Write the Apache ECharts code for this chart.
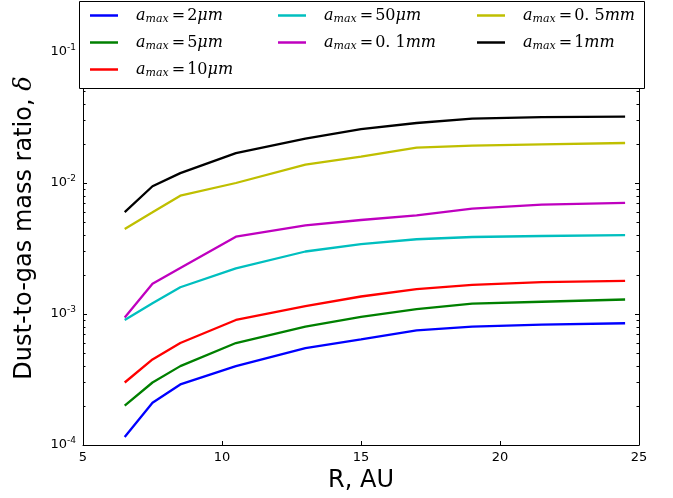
<!DOCTYPE html>
<html>
<head>
<meta charset="utf-8">
<script src="https://cdn.jsdelivr.net/npm/echarts@6/dist/echarts.min.js"></script>
<style>
html,body{margin:0;padding:0;background:#fff;}
#chart{width:673px;height:498px;}
</style>
</head>
<body>
<div id="chart"></div>
<script>
// ---- data ----
var radiusAU = [6.5, 7.5, 8.5, 10.5, 13, 15, 17, 19, 21.5, 24.5];
var amax2um   = [1.15e-4, 2.1e-4, 2.9e-4, 4.0e-4, 5.5e-4, 6.4e-4, 7.5e-4, 8.0e-4, 8.3e-4, 8.5e-4];
var amax5um   = [2.0e-4, 3.0e-4, 4.0e-4, 6.0e-4, 8.0e-4, 9.5e-4, 1.09e-3, 1.2e-3, 1.24e-3, 1.29e-3];
var amax10um  = [3.0e-4, 4.5e-4, 6.0e-4, 9.0e-4, 1.15e-3, 1.36e-3, 1.55e-3, 1.67e-3, 1.75e-3, 1.79e-3];
var amax50um  = [9.0e-4, 1.21e-3, 1.6e-3, 2.23e-3, 3.0e-3, 3.42e-3, 3.72e-3, 3.87e-3, 3.94e-3, 4.0e-3];
var amax01mm  = [9.4e-4, 1.7e-3, 2.24e-3, 3.89e-3, 4.75e-3, 5.22e-3, 5.67e-3, 6.37e-3, 6.83e-3, 7.04e-3];
var amax05mm  = [4.46e-3, 5.97e-3, 8.0e-3, 1.0e-2, 1.38e-2, 1.59e-2, 1.86e-2, 1.93e-2, 1.97e-2, 2.02e-2];
var amax1mm   = [6.0e-3, 9.44e-3, 1.19e-2, 1.69e-2, 2.18e-2, 2.58e-2, 2.87e-2, 3.1e-2, 3.18e-2, 3.21e-2];

var sizeNums  = ['2', '5', '10', '50', '0. 1', '0. 5', '1'];
var sizeUnits = ['μm', 'μm', 'μm', 'μm', 'mm', 'mm', 'mm'];
var seriesValues = [amax2um, amax5um, amax10um, amax50um, amax01mm, amax05mm, amax1mm];
var seriesColors = ['#0000ff', '#008000', '#ff0000', '#00bfbf', '#bf00bf', '#bfbf00', '#000000'];

var xTicks = [5, 10, 15, 20, 25];
var yMin = 1e-4, yMax = 1e-1;
var minorMultipliers = [2, 3, 4, 5, 6, 7, 8, 9];
var decades = [1e-4, 1e-3, 1e-2];

// ---- build ----
var names = sizeNums.map(function (n, i) { return 'a_max = ' + n + sizeUnits[i]; });
var minorTickValues = [];
decades.forEach(function (d) { minorMultipliers.forEach(function (m) { minorTickValues.push(m * d); }); });

var series = seriesValues.map(function (vals, i) {
  return {
    name: names[i],
    type: 'line',
    data: radiusAU.map(function (r, j) { return [r, vals[j]]; }),
    showSymbol: false,
    symbol: 'none',
    lineStyle: { color: seriesColors[i], width: 2.3 },
    itemStyle: { color: seriesColors[i] },
    color: seriesColors[i],
    animation: false,
    z: 3
  };
});

series.push({
  type: 'custom',
  name: 'minorTicks',
  silent: true,
  clip: false,
  animation: false,
  data: minorTickValues.map(function (v) { return [5, v]; }),
  renderItem: function (params, api) {
    var v = api.value(1);
    var pL = api.coord([5, v]);
    var pR = api.coord([25, v]);
    var yy = Math.round(pL[1]) + 0.5;
    return {
      type: 'group',
      children: [
        { type: 'line', shape: { x1: pL[0], y1: yy, x2: pL[0] + 2.5, y2: yy }, style: { stroke: '#000', lineWidth: 1 } },
        { type: 'line', shape: { x1: pR[0], y1: yy, x2: pR[0] - 2.5, y2: yy }, style: { stroke: '#000', lineWidth: 1 } }
      ]
    };
  }
});

var serif = 'DejaVu Serif';
var legendRich = {
  a: { fontFamily: serif, fontStyle: 'italic', fontSize: 16, lineHeight: 20, padding: [0, 0, 0, 13], color: '#000' },
  s: { fontFamily: serif, fontStyle: 'italic', fontSize: 11, lineHeight: 20, padding: [8, 3, 0, 0], color: '#000' },
  e: { fontFamily: serif, fontSize: 16, lineHeight: 20, padding: [0, 2, 0, 0], color: '#000' },
  n: { fontFamily: serif, fontSize: 16, lineHeight: 20, color: '#000' },
  u: { fontFamily: serif, fontStyle: 'italic', fontSize: 16, lineHeight: 20, color: '#000' }
};
function legendFormatter(name) {
  var i = names.indexOf(name);
  return '{a|a}{s|max}{e|=}{n|' + sizeNums[i] + '}{u|' + sizeUnits[i] + '}';
}
function makeLegend(idx, left) {
  return {
    data: idx.map(function (i) { return names[i]; }),
    orient: 'vertical',
    left: left,
    top: 6,
    padding: 0,
    icon: 'rect',
    itemWidth: 28,
    itemHeight: 2.5,
    itemGap: 8,
    selectedMode: false,
    z: 60,
    formatter: legendFormatter,
    textStyle: { rich: legendRich }
  };
}

var axisLabelRich = {
  b: { fontFamily: 'DejaVu Sans', fontSize: 13, color: '#000', lineHeight: 16 },
  s: { fontFamily: 'DejaVu Sans', fontSize: 9, color: '#000', lineHeight: 16, padding: [0, 0, 9, 0] }
};

var chart = echarts.init(document.getElementById('chart'), null, { renderer: 'canvas' });
chart.setOption({
  animation: false,
  backgroundColor: '#fff',
  grid: { left: 83, right: 34, top: 52, bottom: 53, containLabel: false },
  xAxis: {
    type: 'value',
    min: xTicks[0],
    max: xTicks[xTicks.length - 1],
    interval: 5,
    name: 'R, AU',
    nameLocation: 'middle',
    nameGap: 24,
    nameTextStyle: { fontFamily: 'DejaVu Sans', fontSize: 24, color: '#000', verticalAlign: 'top' },
    axisLine: { lineStyle: { color: '#000', width: 1 } },
    axisTick: { inside: true, length: 4, lineStyle: { color: '#000' } },
    splitLine: { show: false },
    axisLabel: { fontFamily: 'DejaVu Sans', fontSize: 13, color: '#000', margin: 6 }
  },
  yAxis: [{
    type: 'log',
    logBase: 10,
    min: yMin,
    max: yMax,
    position: 'left',
    axisLine: { show: true, lineStyle: { color: '#000', width: 1 } },
    axisTick: { show: true, inside: true, length: 4, lineStyle: { color: '#000' } },
    splitLine: { show: false },
    axisLabel: {
      margin: 7,
      formatter: function (v) {
        var e = Math.round(Math.log(v) / Math.LN10);
        return '{b|10}{s|' + e + '}';
      },
      rich: axisLabelRich
    }
  }, {
    type: 'log',
    logBase: 10,
    min: yMin,
    max: yMax,
    position: 'right',
    axisLine: { show: true, lineStyle: { color: '#000', width: 1 } },
    axisTick: { show: true, inside: true, length: 4, lineStyle: { color: '#000' } },
    splitLine: { show: false },
    axisLabel: { show: false }
  }],
  legend: [
    makeLegend([0, 1, 2], 90),
    makeLegend([3, 4], 278),
    makeLegend([5, 6], 477)
  ],
  graphic: [
    {
      type: 'rect',
      z: 50,
      shape: { x: 79.5, y: 1.5, width: 565, height: 87 },
      style: { fill: '#fff', stroke: '#000', lineWidth: 1 }
    },
    {
      type: 'text',
      z: 50,
      x: 25,
      y: 228,
      rotation: Math.PI / 2,
      style: {
        text: '{t|Dust-to-gas mass ratio, }{d|δ}',
        align: 'center',
        verticalAlign: 'middle',
        rich: {
          t: { fontFamily: 'DejaVu Sans', fontSize: 24, fill: '#000' },
          d: { fontFamily: 'DejaVu Serif', fontStyle: 'italic', fontSize: 24, fill: '#000' }
        }
      }
    }
  ],
  series: series
});
</script>
</body>
</html>
